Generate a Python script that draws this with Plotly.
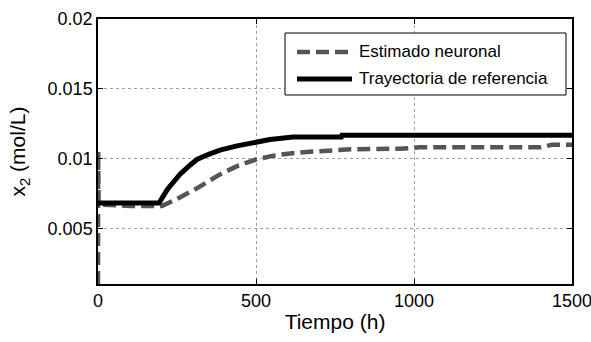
import plotly.graph_objects as go

# Reference trajectory (black solid)
t_ref = [0, 193, 220, 259, 290, 313, 350, 386, 440, 497, 544, 617, 770, 772, 1000, 1500]
x_ref = [0.0068, 0.0068, 0.0078, 0.00886, 0.0095, 0.00993, 0.0103, 0.0106, 0.0109, 0.0112, 0.01136, 0.01154, 0.01154, 0.01166, 0.01166, 0.01166]

# Neural estimate (gray dashed)
t_est = [0, 0.5, 2, 100, 203, 250, 313, 386, 440, 503, 560, 608, 680, 807, 956, 1019, 1057, 1400, 1437, 1500]
x_est = [0.001, 0.0105, 0.0067, 0.0066, 0.0066, 0.0071, 0.00786, 0.00886, 0.00945, 0.00995, 0.01022, 0.01036, 0.0105, 0.01066, 0.0107, 0.0108, 0.0108, 0.0108, 0.01098, 0.01098]

x_ticks = [0, 500, 1000, 1500]
y_ticks = [0.005, 0.01, 0.015, 0.02]
y_labels = ["0.005", "0.01", "0.015", "0.02"]
series_names = ["Estimado neuronal", "Trayectoria de referencia"]

GRAY = "#555555"
EST_DASH = "13px,6px"
font = "Arial"

fig = go.Figure()
fig.add_trace(go.Scatter(x=t_est, y=x_est, mode="lines", name=series_names[0],
                         line=dict(color=GRAY, width=4.5, dash=EST_DASH), showlegend=False))
fig.add_trace(go.Scatter(x=t_ref, y=x_ref, mode="lines", name=series_names[1],
                         line=dict(color="black", width=5), showlegend=False))

axis_common = dict(showline=True, linecolor="black", linewidth=1.5, mirror="ticks",
                   ticks="inside", ticklen=5, tickcolor="black", automargin=False,
                   ticklabeloverflow="allow",
                   showgrid=True, gridcolor="#a0a0a0", griddash="dot", gridwidth=1,
                   zeroline=False, tickfont=dict(family=font, size=18, color="black"))

L, R, T, B = 98, 19, 19, 58
W, H = 591, 342
pw, ph = W - L - R, H - T - B

def px(x):
    return (x - L) / pw

def py(y):
    return 1 - (y - T) / ph

# Manual legend box (MATLAB style)
shapes = [
    dict(type="rect", xref="paper", yref="paper", x0=px(285), x1=px(566), y0=py(95), y1=py(33),
         fillcolor="white", line=dict(color="black", width=1), layer="above"),
    dict(type="line", xref="paper", yref="paper", x0=px(297), x1=px(352), y0=py(52), y1=py(52),
         line=dict(color=GRAY, width=4.5, dash=EST_DASH), layer="above"),
    dict(type="line", xref="paper", yref="paper", x0=px(297), x1=px(352), y0=py(79), y1=py(79),
         line=dict(color="black", width=5), layer="above"),
]
annotations = [
    dict(xref="paper", yref="paper", x=px(357), y=py(row_y), xanchor="left", yanchor="middle",
         text=name, showarrow=False, font=dict(family=font, size=17, color="black"))
    for name, row_y in zip(series_names, [52, 79])
]

fig.update_layout(
    width=W, height=H,
    margin=dict(l=L, r=R, t=T, b=B),
    paper_bgcolor="white", plot_bgcolor="white",
    font=dict(family=font, color="black"),
    showlegend=False,
    shapes=shapes,
    annotations=annotations,
    xaxis=dict(range=[0, 1500], tickvals=x_ticks,
               title=dict(text="Tiempo (h)", font=dict(family=font, size=21), standoff=4),
               **axis_common),
    yaxis=dict(range=[0.001, 0.02], tickvals=y_ticks, ticktext=y_labels,
               title=dict(text="x<sub>2</sub> (mol/L)", font=dict(family=font, size=21), standoff=16),
               **axis_common),
)

fig.write_html("out.html")
